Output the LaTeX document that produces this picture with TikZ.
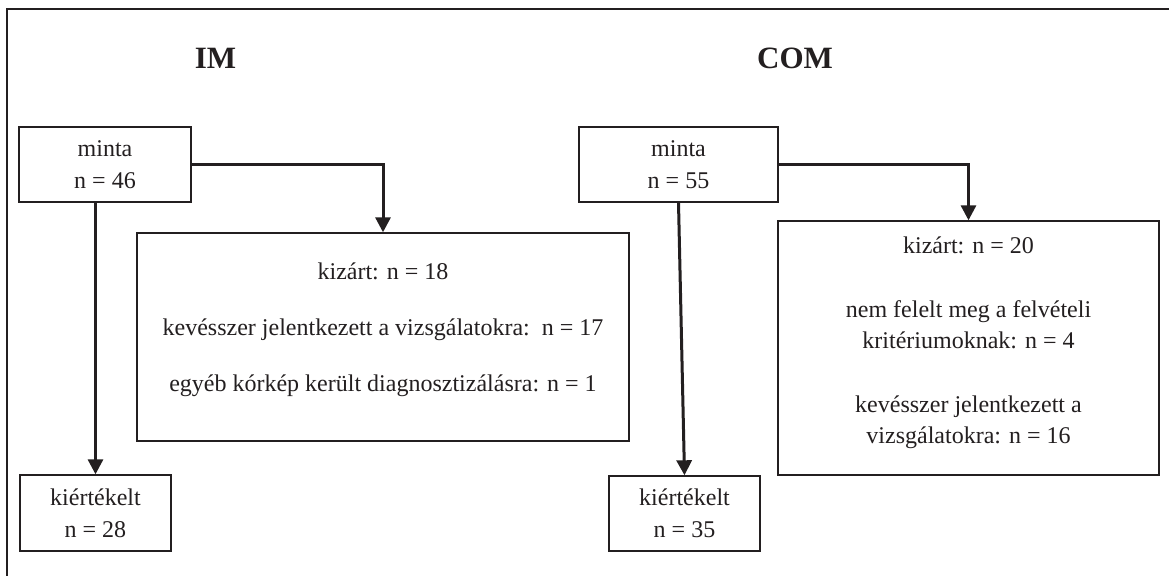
\documentclass[tikz,border=0pt]{standalone}
\usepackage{fontspec}
\setmainfont{Liberation Serif}
\usetikzlibrary{arrows.meta}
\definecolor{ink}{HTML}{231F20}
\tikzset{
  box/.style={draw=ink, line width=1.4pt, inner sep=0pt, align=center, text=ink,
    font=\fontsize{24}{32}\selectfont},
  conn/.style={draw=ink, line width=3pt, -{Triangle[width=15pt,length=15pt]}},
  head/.style={font=\fontsize{31}{36}\selectfont\bfseries, text=ink, anchor=base, inner sep=0pt}
}
\begin{document}
\begin{tikzpicture}[x=1pt,y=-1pt]
\useasboundingbox (0,0) rectangle (1169,576);
\fill[white] (0,0) rectangle (1169,576);
\draw[ink, line width=2pt] (1169,9) -- (7,9) -- (7,576);
\node[head] (hIM) at (215.5,68) {IM};
\node[head] (hCOM) at (795,68) {COM};
\node[box, minimum width=172pt, minimum height=75pt] (m1) at (105,164.5) {minta\\n = 46};
\node[box, minimum width=492pt, minimum height=208pt] (k1) at (383,337)
  {\raisebox{0pt}[\height][\dimexpr\depth+16pt]{\begin{tabular}{@{}c@{}}kizárt: n = 18\\[24pt]kevésszer jelentkezett a vizsgálatokra:\ \ n = 17\\[24pt]egyéb kórkép került diagnosztizálásra: n = 1\end{tabular}}};
\node[box, minimum width=151pt, minimum height=76pt] (e1) at (95.5,513) {kiértékelt\\n = 28};
\node[box, minimum width=199pt, minimum height=75pt] (m2) at (678.5,164.5) {minta\\n = 55};
\node[box, minimum width=381pt, minimum height=254pt, font=\fontsize{24}{31}\selectfont] (k2) at (968.5,348)
  {\raisebox{0pt}[\height][\dimexpr\depth+12pt]{\begin{tabular}{@{}c@{}}kizárt: n = 20\\[33pt]nem felelt meg a felvételi\\kritériumoknak: n = 4\\[33pt]kevésszer jelentkezett a\\vizsgálatokra: n = 16\end{tabular}}};
\node[box, minimum width=151pt, minimum height=75pt] (e2) at (684.5,513.5) {kiértékelt\\n = 35};
\draw[conn] (m1.east) -| (k1.north);
\draw[conn] (e1.north |- m1.south) -- (e1.north);
\draw[conn] (m2.east) -| (k2.north);
\draw[conn] (m2.south) -- (e2.north);
\end{tikzpicture}
\end{document}
